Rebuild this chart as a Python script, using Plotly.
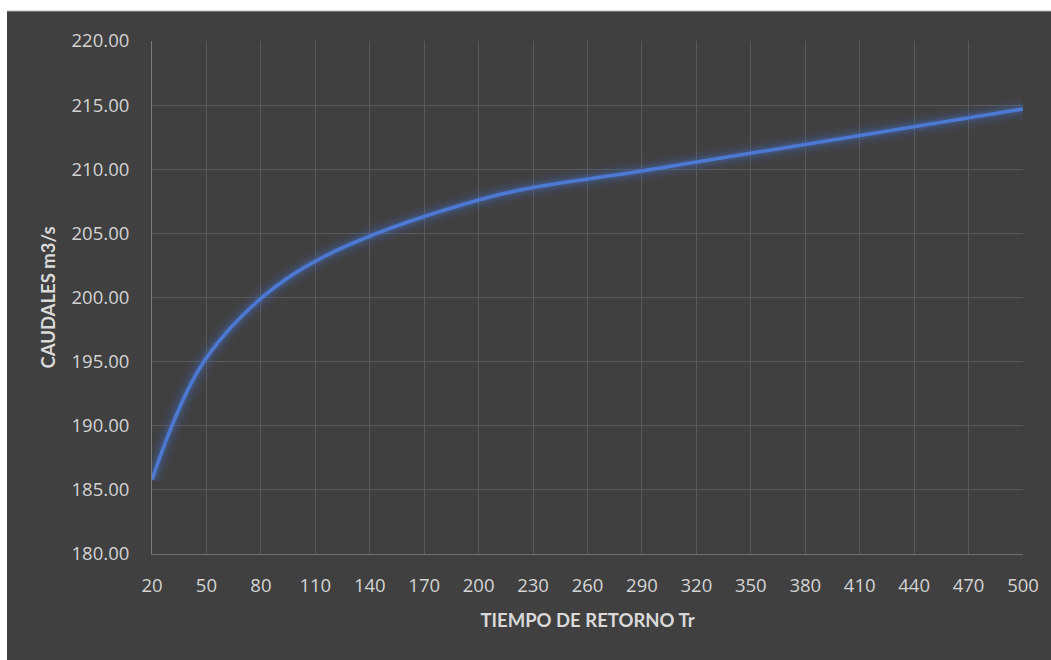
import plotly.graph_objects as go

# Return period (years) and design discharge (m3/s)
tiempo_retorno = [20, 50, 100, 200, 300, 500]
caudales = [185.8, 195.3, 202.0, 207.6, 210.1, 214.7]

x_ticks = list(range(20, 501, 30))

W, H = 1051, 660
L, R, T, B = 152, 28, 41, 106
pw, ph = W - L - R, H - T - B

def px_x(p):
    return (p - L) / pw

def px_y(p):
    return (H - B - p) / ph

fig = go.Figure()

# soft glow around the curve
for w, op in [(22, 0.05), (16, 0.08), (11, 0.13), (7, 0.22)]:
    fig.add_trace(go.Scatter(
        x=tiempo_retorno, y=caudales, mode="lines",
        line=dict(color="#4472C4", width=w, shape="spline", smoothing=1.0),
        opacity=op, hoverinfo="skip", showlegend=False,
    ))

fig.add_trace(go.Scatter(
    x=tiempo_retorno, y=caudales, mode="lines",
    line=dict(color="#4D79D3", width=3.5, shape="spline", smoothing=1.0),
    showlegend=False, name="Caudal",
))

tick_font = dict(family="'Open Sans', sans-serif", size=18.5, color="#D4D4D4")
title_font = dict(family="Lato, sans-serif", size=18.5, color="#D9D9D9")

fig.update_layout(
    width=W, height=H,
    margin=dict(l=L, r=R, t=T, b=B),
    paper_bgcolor="#404040",
    plot_bgcolor="#404040",
    font=dict(family="Lato, sans-serif", color="#D9D9D9", size=16),
    xaxis=dict(
        range=[20, 500], tickmode="array", tickvals=x_ticks,
        ticktext=[str(v) for v in x_ticks],
        showgrid=True, gridcolor="#5A5A5A", gridwidth=1,
        showline=True, linecolor="#6E6E6E", linewidth=1,
        zeroline=False, ticks="", ticklabelstandoff=15,
        tickfont=tick_font,
        title=dict(text="<b>TIEMPO DE RETORNO Tr</b>",
                   font=title_font, standoff=17),
    ),
    yaxis=dict(
        range=[180, 220], tick0=180, dtick=5, tickformat=".2f",
        showgrid=True, gridcolor="#5A5A5A", gridwidth=1,
        showline=True, linecolor="#7A7A7A", linewidth=1,
        zeroline=False, ticks="", ticklabelstandoff=18,
        tickfont=tick_font,
        title=dict(text="<b>CAUDALES m3/s</b>",
                   font=title_font, standoff=11),
    ),
    shapes=[
        # white page strips around the dark chart area
        dict(type="rect", xref="paper", yref="paper",
             x0=px_x(0), x1=px_x(W), y0=px_y(0), y1=px_y(11),
             fillcolor="white", line=dict(width=0), layer="above"),
        dict(type="rect", xref="paper", yref="paper",
             x0=px_x(0), x1=px_x(7), y0=px_y(H), y1=px_y(0),
             fillcolor="white", line=dict(width=0), layer="above"),
        dict(type="line", xref="paper", yref="paper",
             x0=px_x(7), x1=px_x(W), y0=px_y(11), y1=px_y(11),
             line=dict(color="#B0B0B0", width=1), layer="above"),
    ],
)

fig.write_html("out.html")
